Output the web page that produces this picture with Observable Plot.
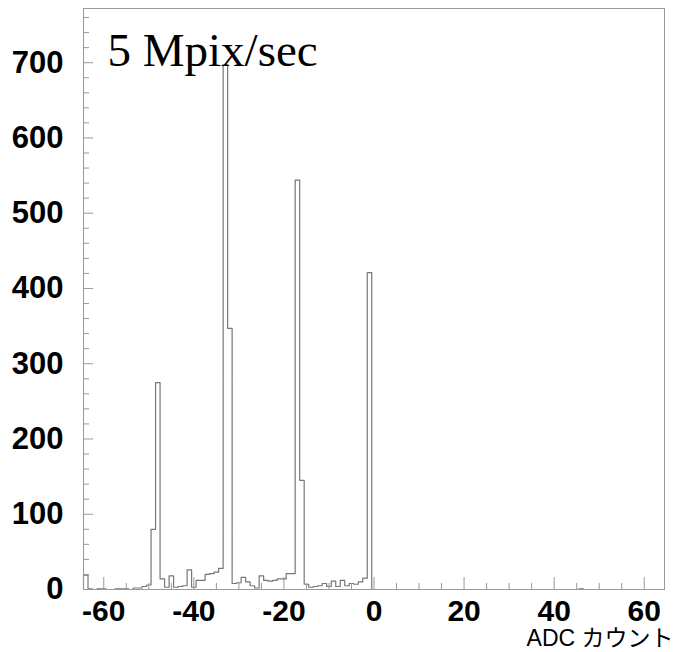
<!DOCTYPE html>
<html><head><meta charset="utf-8">
<script src="https://cdn.jsdelivr.net/npm/d3@7"></script>
<script src="https://cdn.jsdelivr.net/npm/@observablehq/plot@0.6"></script>
<style>body{margin:0;background:#fff}</style>
</head><body><div id="chart"></div>
<script>
const title = "5 Mpix/sec";
const xLabel = "ADC カウント";
// bin centres -64 .. 64 (width 1)
const binCenters = d3.range(-64, 65);
const counts = [
  19, 1, 0, 1, 1, 0, 0, 1, 1, 1,        // -64 .. -55
  0, 2, 2, 4, 6, 80, 275, 14, 3, 18,    // -54 .. -45
  3, 4, 5, 26, 3, 12, 12, 20, 21, 23,   // -44 .. -35
  28, 697, 347, 8, 9, 16, 10, 5, 2, 18, // -34 .. -25
  12, 11, 12, 14, 14, 21, 21, 544, 145, 7, // -24 .. -15
  3, 4, 5, 8, 4, 11, 4, 12, 5, 8,       // -14 .. -5
  7, 10, 15, 421, 0, 0, 0, 0, 0, 0,     // -4 .. 5
  0, 0, 0, 0, 0, 0, 0, 0, 0, 0,         // 6 .. 15
  0, 0, 0, 0, 0, 0, 0, 0, 0, 0,         // 16 .. 25
  0, 0, 0, 0, 0, 0, 0, 0, 0, 0,         // 26 .. 35
  0, 0, 0, 0, 0, 0, 0, 0, 0, 0,         // 36 .. 45
  1, 0, 0, 0, 0, 0, 0, 0, 0, 0,         // 46 .. 55
  0, 0, 0, 0, 0, 0, 0, 0, 0             // 56 .. 64
];
const xMajor = [-60, -40, -20, 0, 20, 40, 60];
const xMinor = d3.range(-60, 61, 5).filter(v => !xMajor.includes(v));
const yMajor = [0, 100, 200, 300, 400, 500, 600, 700];
const yMinor = d3.range(0, 761, 20).filter(v => !yMajor.includes(v));
const xDomain = [-64.5, 64.5];
const yDomain = [0, 772];

const W = 677, H = 652;
const mL = 83, mR = 13, mT = 8, mB = 63;
const pw = W - mL - mR, ph = H - mT - mB;

// step outline: left edge of each bin, plus closing point
const steps = [{x: xDomain[0], y: 0}]
  .concat(binCenters.map((c, i) => ({x: c - 0.5, y: counts[i]})))
  .concat([{x: xDomain[1], y: 0}]);

const frameColor = "#999";
const font = "'Liberation Sans', Arial, Helvetica, sans-serif";

const chart = Plot.plot({
  width: W, height: H,
  marginLeft: mL, marginRight: mR, marginTop: mT, marginBottom: mB,
  style: {fontFamily: font, background: "#fff", overflow: "visible"},
  x: {domain: xDomain},
  y: {domain: yDomain},
  marks: [
    Plot.lineY(steps, {x: "x", y: "y", curve: "step-after", stroke: "#777", strokeWidth: 1.2}),
    Plot.tickX(xMajor, {x: d => d, insetTop: ph - 12, stroke: frameColor}),
    Plot.tickX(xMinor, {x: d => d, insetTop: ph - 6, stroke: frameColor}),
    Plot.tickY(yMajor, {y: d => d, insetRight: pw - 10, stroke: frameColor}),
    Plot.tickY(yMinor, {y: d => d, insetRight: pw - 6, stroke: frameColor}),
    Plot.frame({stroke: frameColor}),
    Plot.axisX(xMajor, {tickSize: 0, tickPadding: 10, tickFormat: d => String(d), fontSize: 30, fontWeight: "bold", fill: "#000", label: null}),
    Plot.axisY(yMajor, {tickSize: 0, tickPadding: 20, tickFormat: d => String(d), fontSize: 31, fontWeight: "bold", fill: "#000", label: null}),
    Plot.text([title], {text: d => d, frameAnchor: "top-left", textAnchor: "start", lineAnchor: "bottom", dx: 24, dy: 57, fontSize: 47, fontFamily: "'Liberation Serif', 'Times New Roman', serif", fill: "#000"}),
    Plot.text([xLabel], {text: d => d, frameAnchor: "bottom-right", textAnchor: "end", lineAnchor: "bottom", dx: 9, dy: 56, fontSize: 23, fontFamily: "'Liberation Sans', 'Noto Sans CJK JP', sans-serif", fill: "#000"})
  ]
});
document.getElementById("chart").appendChild(chart);
</script>
</body></html>
